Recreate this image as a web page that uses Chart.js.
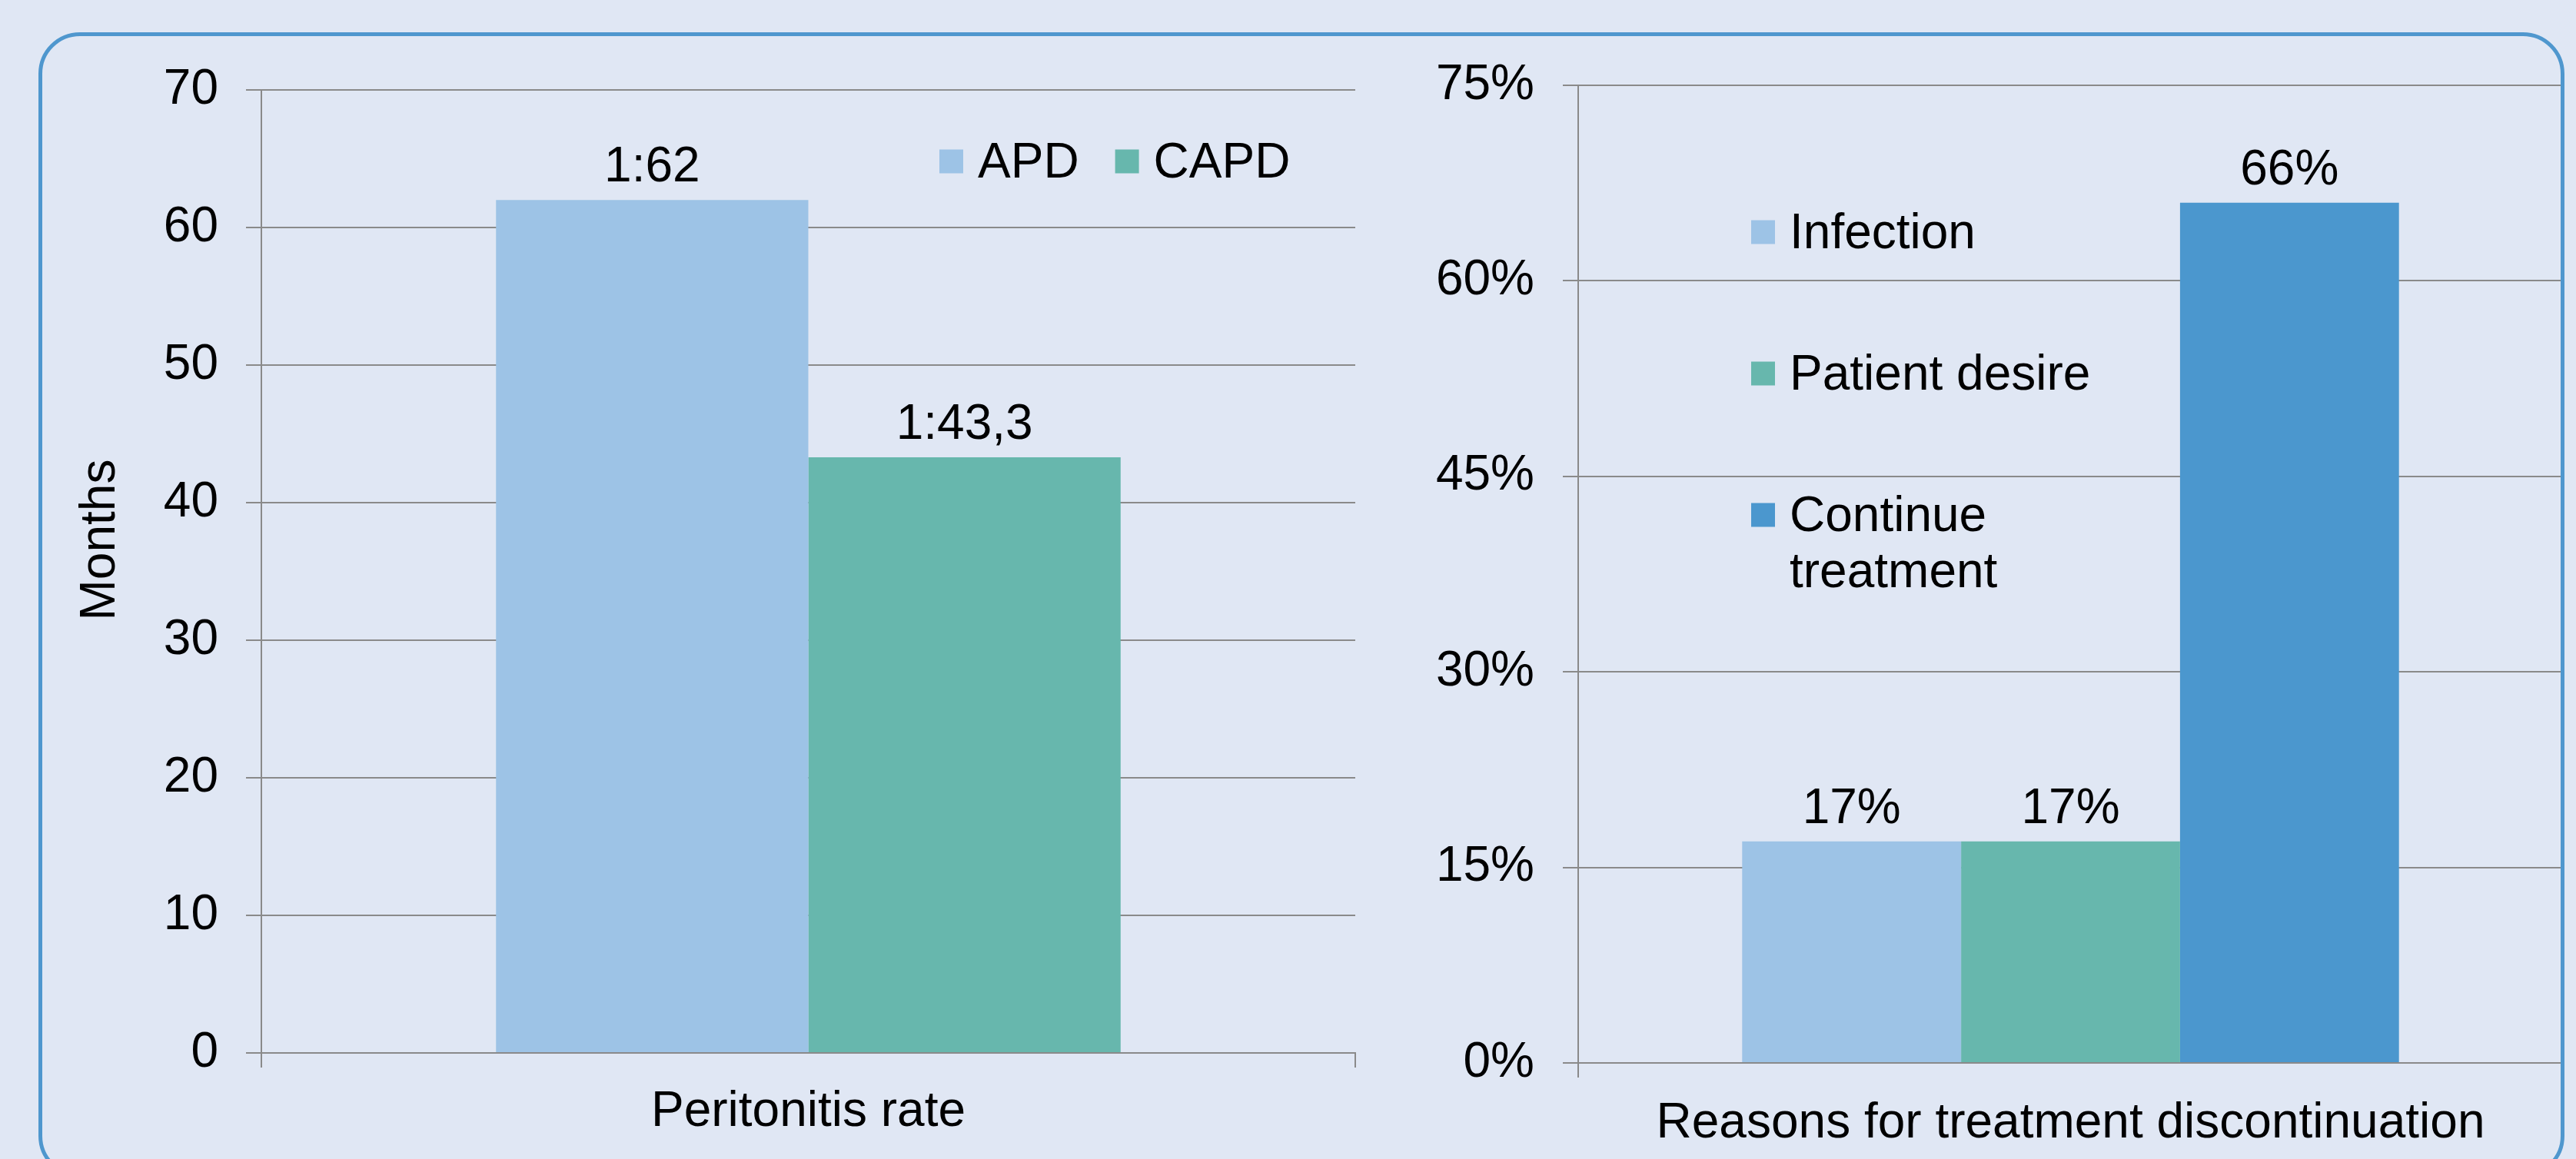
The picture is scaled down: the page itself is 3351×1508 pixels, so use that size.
<!DOCTYPE html>
<html>
<head>
<meta charset="utf-8">
<script src="https://cdn.jsdelivr.net/npm/chart.js@4.4.1/dist/chart.umd.min.js"></script>
<style>
  html, body { margin: 0; padding: 0; background: #e0e7f4; overflow: hidden; }
  body { width: 3351px; height: 1508px; position: relative; }
  canvas { position: absolute; top: 0; }
  #rate-chart { left: 0; }
  #reason-chart { left: 1800px; }
  .frame {
    position: absolute; left: 50px; top: 42px;
    width: 3276px; height: 1480px;
    border: 5px solid #4f97ce; border-radius: 54px;
    pointer-events: none;
  }
</style>
</head>
<body>
<canvas id="rate-chart" width="1800" height="1508"></canvas>
<canvas id="reason-chart" width="1551" height="1508"></canvas>
<div class="frame"></div>
<script>
// left chart
const rateCategories = ['Peritonitis rate'];
const rateSeries = ['APD', 'CAPD'];
const rateValues = [62, 43.3];
const rateLabels = ['1:62', '1:43,3'];
const monthTicks = [0, 10, 20, 30, 40, 50, 60, 70];

// right chart
const reasonCategories = ['Reasons for treatment discontinuation'];
const reasonSeries = ['Infection', 'Patient desire', 'Continue treatment'];
const reasonValues = [17, 17, 66];
const percentTicks = [0, 15, 30, 45, 60, 75];

const FONT = '"Liberation Sans", Arial, sans-serif';
const SIZE = 64;
const COLORS = ['#9dc3e6', '#67b7ad', '#4b97ce'];
const GRID = '#8a8a8a';

Chart.defaults.font.family = FONT;
Chart.defaults.font.size = SIZE;
Chart.defaults.color = '#000';

// value text above each bar
const barLabels = {
  id: 'barLabels',
  afterDatasetsDraw(chart, args, opts) {
    const ctx = chart.ctx;
    ctx.save();
    ctx.font = `${SIZE}px ${FONT}`;
    ctx.fillStyle = '#000';
    ctx.textAlign = 'center';
    ctx.textBaseline = 'alphabetic';
    chart.data.datasets.forEach((ds, i) => {
      chart.getDatasetMeta(i).data.forEach((bar, j) => {
        ctx.fillText(opts.format(ds.data[j], i), bar.x, bar.y - 24);
      });
    });
    ctx.restore();
  }
};

function wrapText(ctx, text, maxWidth) {
  const words = text.split(' ');
  const lines = [];
  let line = '';
  words.forEach(w => {
    const test = line ? line + ' ' + w : w;
    if (line && ctx.measureText(test).width > maxWidth) {
      lines.push(line);
      line = w;
    } else {
      line = test;
    }
  });
  lines.push(line);
  return lines;
}

// legend drawn inside the plot area
const insideLegend = {
  id: 'insideLegend',
  afterDraw(chart, args, opts) {
    const ctx = chart.ctx;
    const box = 31;
    ctx.save();
    ctx.font = `${SIZE}px ${FONT}`;
    ctx.textAlign = 'left';
    ctx.textBaseline = 'middle';
    let x = chart.chartArea.left + opts.x;
    let y = chart.chartArea.top + opts.y;
    chart.data.datasets.forEach(ds => {
      ctx.fillStyle = ds.backgroundColor;
      ctx.fillRect(x, y - box / 2, box, box);
      ctx.fillStyle = '#000';
      const lines = wrapText(ctx, ds.label, opts.maxWidth || 9999);
      lines.forEach((l, k) => ctx.fillText(l, x + box + 19, y + 3 + k * 73));
      if (opts.vertical) {
        y += opts.step;
      } else {
        x += box + 19 + ctx.measureText(ds.label).width + 47;
      }
    });
    ctx.restore();
  }
};

// rotated y axis title, sitting a little above the axis middle as in the original
const yTitle = {
  id: 'yTitle',
  afterDraw(chart, args, opts) {
    if (!opts.text) return;
    const ctx = chart.ctx;
    const area = chart.chartArea;
    ctx.save();
    ctx.font = `${SIZE}px ${FONT}`;
    ctx.fillStyle = '#000';
    ctx.textAlign = 'center';
    ctx.textBaseline = 'middle';
    ctx.translate(opts.x, (area.top + area.bottom) / 2 + opts.dy);
    ctx.rotate(-Math.PI / 2);
    ctx.fillText(opts.text, 0, 0);
    ctx.restore();
  }
};

function scalesFor(ticks, max, yWidth, yPad, xHeight, xPad, fmt) {
  return {
    x: {
      grid: { display: true, drawOnChartArea: false, tickLength: 19, color: GRID, lineWidth: 2 },
      border: { color: GRID, width: 2 },
      ticks: { padding: xPad, maxRotation: 0 },
      afterFit: s => { s.height = xHeight; }
    },
    y: {
      min: 0,
      max: max,
      afterBuildTicks: s => { s.ticks = ticks.map(v => ({ value: v })); },
      grid: { color: GRID, lineWidth: 2, tickLength: 20 },
      border: { color: GRID, width: 2 },
      ticks: { padding: yPad, callback: fmt },
      afterFit: s => { s.width = yWidth; }
    }
  };
}

new Chart(document.getElementById('rate-chart'), {
  type: 'bar',
  data: {
    labels: rateCategories,
    datasets: rateSeries.map((name, i) => ({
      label: name,
      data: [rateValues[i]],
      backgroundColor: COLORS[i],
      categoryPercentage: 0.571,
      barPercentage: 1
    }))
  },
  options: {
    responsive: false,
    animation: false,
    devicePixelRatio: 1,
    layout: { padding: { left: 0, top: 117, right: 37, bottom: 0 } },
    plugins: {
      legend: { display: false },
      tooltip: { enabled: false },
      barLabels: { format: (v, i) => rateLabels[i] },
      insideLegend: { x: 882, y: 93 },
      yTitle: { text: 'Months', x: 131, dy: -41 }
    },
    scales: scalesFor(monthTicks, 70, 340, 36, 138, 20, v => v)
  },
  plugins: [barLabels, insideLegend, yTitle]
});

new Chart(document.getElementById('reason-chart'), {
  type: 'bar',
  data: {
    labels: reasonCategories,
    datasets: reasonSeries.map((name, i) => ({
      label: name,
      data: [reasonValues[i]],
      backgroundColor: COLORS[i],
      categoryPercentage: 0.667,
      barPercentage: 1
    }))
  },
  options: {
    responsive: false,
    animation: false,
    devicePixelRatio: 1,
    layout: { padding: { left: 0, top: 111, right: 17, bottom: 0 } },
    plugins: {
      legend: { display: false },
      tooltip: { enabled: false },
      barLabels: { format: v => v + '%' },
      insideLegend: { x: 225, y: 191, vertical: true, step: 184, maxWidth: 420 },
      yTitle: {}
    },
    scales: scalesFor(percentTicks, 75, 253, 37, 125, 22, v => v + '%')
  },
  plugins: [barLabels, insideLegend, yTitle]
});
</script>
</body>
</html>
